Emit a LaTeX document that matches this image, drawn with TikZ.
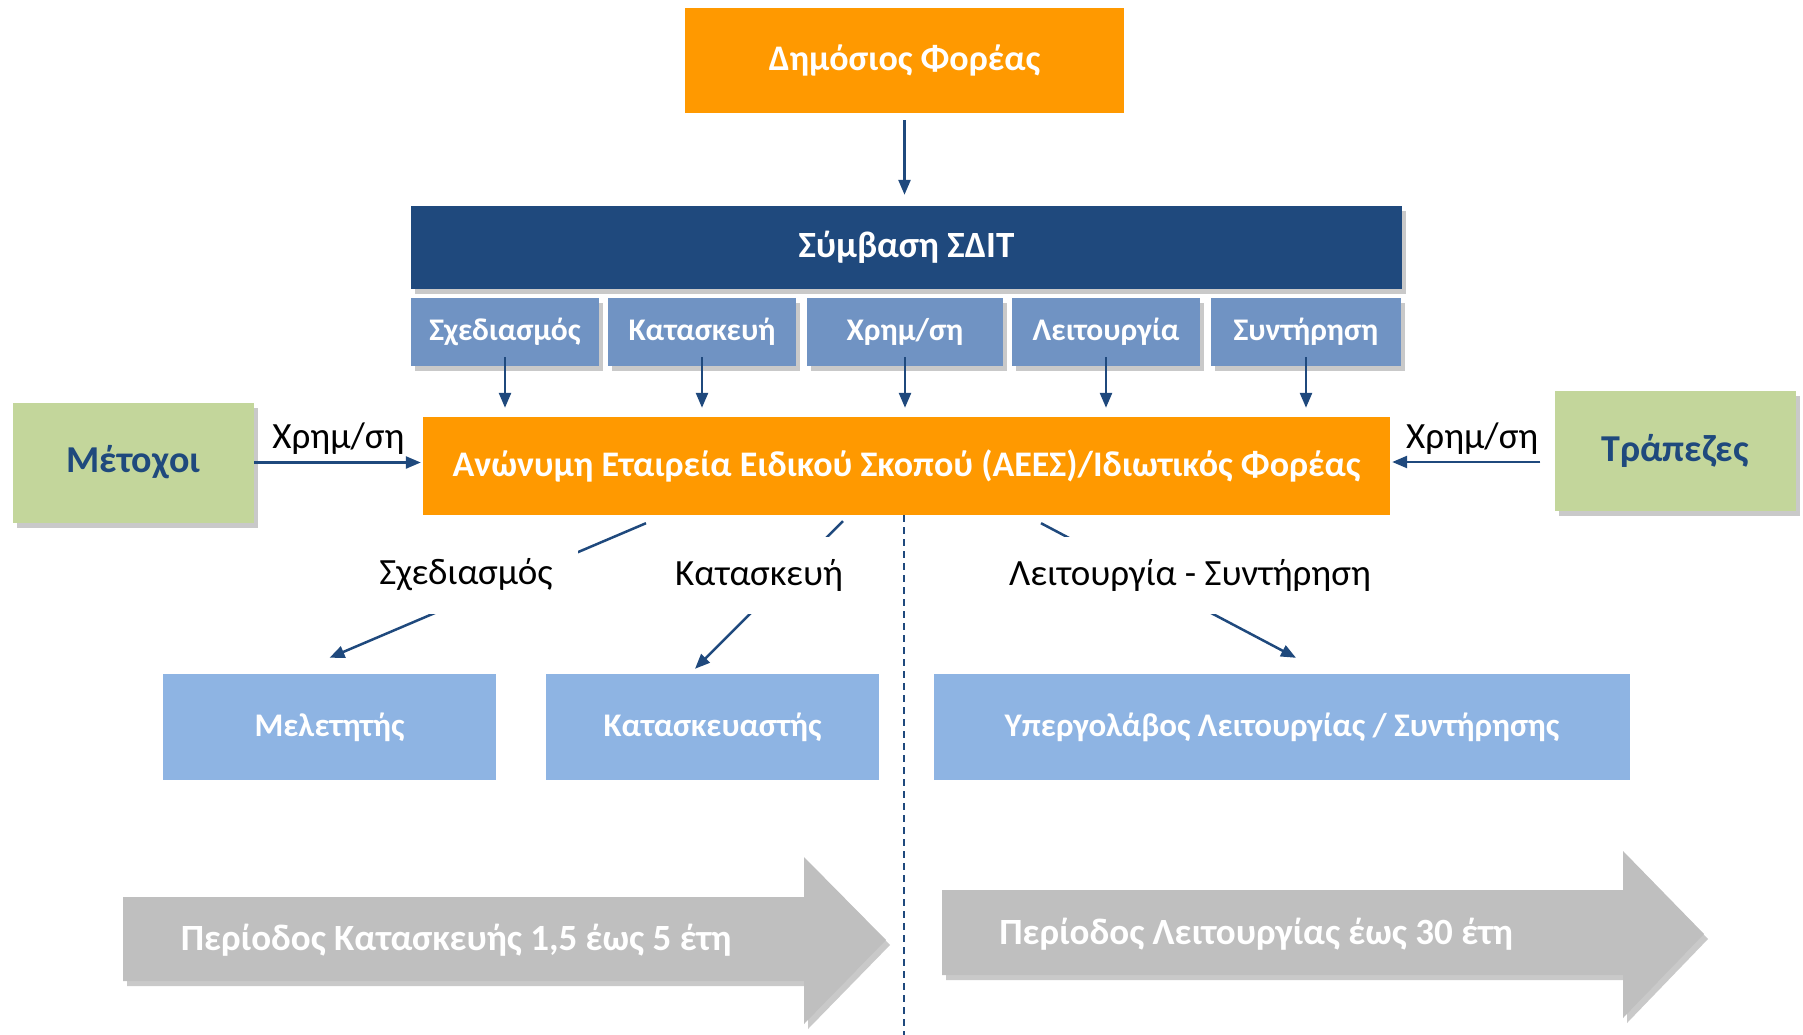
\documentclass[tikz,border=0pt]{standalone}
\usepackage{fontspec}
\setmainfont{Carlito}
\usetikzlibrary{arrows.meta,shadows}

\definecolor{ppporange}{HTML}{FF9900}
\definecolor{pppnavy}{HTML}{1F497D}
\definecolor{pppsteel}{HTML}{7093C3}
\definecolor{ppplight}{HTML}{8EB4E3}
\definecolor{pppgreen}{HTML}{C3D69B}
\definecolor{pppgrey}{HTML}{BFBFBF}

\tikzset{
  shade box/.style={drop shadow={shadow xshift=4pt,shadow yshift=-5pt,opacity=0.3,fill=black!70}},
  orangebox/.style={fill=ppporange,inner sep=0pt,text=white,font=\fontsize{36}{42}\selectfont\bfseries},
  sditbox/.style={fill=pppnavy,shade box,inner sep=0pt,text=white,minimum width=991pt,minimum height=83pt,font=\fontsize{37}{44}\selectfont\bfseries},
  phasebox/.style={fill=pppsteel,shade box,inner sep=0pt,text=white,minimum height=68pt,font=\fontsize{31.5}{38}\selectfont\bfseries},
  greenbox/.style={fill=pppgreen,shade box,inner sep=0pt,text=pppnavy,minimum width=241pt,minimum height=120pt,font=\fontsize{38}{44}\selectfont\bfseries},
  partnerbox/.style={fill=ppplight,inner sep=0pt,text=white,minimum height=106pt,font=\fontsize{33}{40}\selectfont\bfseries},
  flow/.style={draw=pppnavy,line width=2.5pt,-{Triangle[length=15pt,width=12pt]}},
  lbl/.style={fill=white,inner sep=0pt,minimum height=77pt,font=\fontsize{37}{44}\selectfont},
  period/.style={fill=pppgrey,shade box},
  periodtext/.style={inner sep=0pt,text=white,font=\fontsize{37}{44}\selectfont\bfseries},
}

\begin{document}
\begin{tikzpicture}[x=1pt,y=-1pt]
\useasboundingbox (0,0) rectangle (1803,1035);

% top of the scheme
\node[orangebox,minimum width=439pt,minimum height=105pt] (pub) at (904.5,60.5) {Δημόσιος Φορέας};
\node[sditbox] (sdit) at (906.5,247.5) {Σύμβαση ΣΔΙΤ};

\node[phasebox,minimum width=188pt] (sxe) at (505,332) {Σχεδιασμός};
\node[phasebox,minimum width=188pt] (kat) at (702,332) {Κατασκευή};
\node[phasebox,minimum width=196pt] (xrh) at (905,332) {Χρημ/ση};
\node[phasebox,minimum width=188pt] (lei) at (1106,332) {Λειτουργία};
\node[phasebox,minimum width=190pt] (syn) at (1306,332) {Συντήρηση};

\node[orangebox,minimum width=967pt,minimum height=98pt] (aees) at (906.5,466) {Ανώνυμη Εταιρεία Ειδικού Σκοπού (ΑΕΕΣ)/Ιδιωτικός Φορέας};

\node[greenbox] (met) at (133.5,462.5) {Μέτοχοι};
\node[greenbox] (tra) at (1675,451) {Τράπεζες};

% contractors
\node[partnerbox,minimum width=333pt] (mel) at (329.5,727) {Μελετητής};
\node[partnerbox,minimum width=333pt] (kats) at (712.5,727) {Κατασκευαστής};
\node[partnerbox,minimum width=696pt] (ypo) at (1282,727) {Υπεργολάβος Λειτουργίας / Συντήρησης};

\draw[flow,shorten <=7pt,shorten >=11pt] (pub.south) -- (pub.south |- sdit.north);
\foreach \b in {sxe,kat,xrh,lei,syn}
  \draw[flow,shorten >=9pt] ([yshift=9pt]\b.south) -- (\b.south |- aees.north);

\draw[flow,shorten >=2pt] (met.east) -- node[above=3pt,font=\fontsize{37}{44}\selectfont] {Χρημ/ση} (met.east -| aees.west);
\draw[flow,shorten <=14pt,shorten >=2pt] ([yshift=-11pt]tra.west) -- node[above=3pt,font=\fontsize{37}{44}\selectfont] {Χρημ/ση} ([yshift=-11pt]tra.west -| aees.east);

\coordinate (bot) at (904,1035);
\draw[pppnavy,line width=1.5pt,dash pattern=on 7pt off 5pt] (aees.south -| bot) -- (bot);

\draw[flow] ([xshift=-260.5pt,yshift=-8pt]aees.south) -- ([yshift=16pt]mel.north);
\draw[flow] ([xshift=-63.5pt,yshift=-6pt]aees.south) -- ([xshift=-17.5pt,yshift=5pt]kats.north);
\draw[flow] ([xshift=134.5pt,yshift=-8pt]aees.south) -- ([xshift=14pt,yshift=16pt]ypo.north);

\node[lbl,minimum width=223pt] (l1) at (466,575) {Σχεδιασμός};
\node[lbl,minimum width=190pt] (l2) at (759,575) {Κατασκευή};
\node[lbl,minimum width=380pt] (l3) at (1190,575) {Λειτουργία - Συντήρηση};

% time periods
\fill[period] (123,897) -- (804,897) -- (804,857) -- (886,940) -- (804,1024) -- (804,981) -- (123,981) -- cycle;
\node[periodtext] (p1) at (456,940) {Περίοδος Κατασκευής 1,5 έως 5 έτη};
\fill[period] (942,890) -- (1623,890) -- (1623,851) -- (1704,934) -- (1623,1018) -- (1623,975) -- (942,975) -- cycle;
\node[periodtext] (p2) at (1256,934) {Περίοδος Λειτουργίας έως 30 έτη};

\end{tikzpicture}
\end{document}
